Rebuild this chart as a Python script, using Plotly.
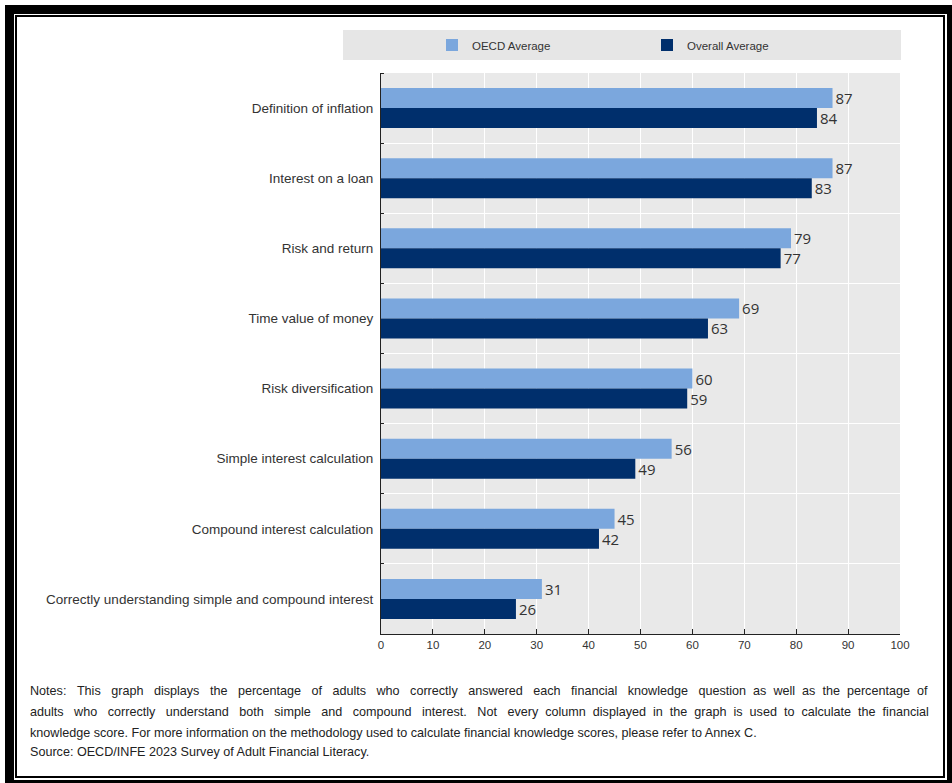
import plotly.graph_objects as go

categories = [
    "Definition of inflation",
    "Interest on a loan",
    "Risk and return",
    "Time value of money",
    "Risk diversification",
    "Simple interest calculation",
    "Compound interest calculation",
    "Correctly understanding simple and compound interest",
]
oecd_avg = [87, 87, 79, 69, 60, 56, 45, 31]
overall_avg = [84, 83, 77, 63, 59, 49, 42, 26]
x_ticks = [0, 10, 20, 30, 40, 50, 60, 70, 80, 90, 100]

note_lines = [
    "Notes: This graph displays the percentage of adults who correctly answered each financial knowledge question as well as the percentage of",
    "adults who correctly understand both simple and compound interest. Not every column displayed in the graph is used to calculate the financial",
    "knowledge score. For more information on the methodology used to calculate financial knowledge scores, please refer to Annex C.",
    "Source: OECD/INFE 2023 Survey of Adult Financial Literacy.",
]
note_justify = [True, True, False, False]

W, H = 952, 783
L, R, T, B = 381, 900, 73, 634

def px(x):
    return (x - L) / (R - L)

def py(y):
    return (B - y) / (B - T)

SANS = "Liberation Sans, Arial, sans-serif"

# Arial / Liberation Sans advance widths (per 1000 em), used to justify the notes
AW = {" ": 278, ".": 278, ",": 278, ":": 278, "/": 278, "-": 333, "0": 556, "1": 556, "2": 556, "3": 556,
      "4": 556, "5": 556, "6": 556, "7": 556, "8": 556, "9": 556,
      "A": 667, "B": 667, "C": 722, "D": 722, "E": 667, "F": 611, "G": 778, "H": 722, "I": 278, "J": 500,
      "K": 667, "L": 556, "M": 833, "N": 722, "O": 778, "P": 667, "Q": 778, "R": 722, "S": 667, "T": 611,
      "U": 722, "V": 667, "W": 944, "X": 667, "Y": 667, "Z": 611,
      "a": 556, "b": 556, "c": 500, "d": 556, "e": 556, "f": 278, "g": 556, "h": 556, "i": 222, "j": 222,
      "k": 500, "l": 222, "m": 833, "n": 556, "o": 556, "p": 556, "q": 556, "r": 333, "s": 500, "t": 278,
      "u": 556, "v": 500, "w": 722, "x": 500, "y": 500, "z": 500}

NOTE_SIZE = 12.6
NOTE_LEFT, NOTE_RIGHT = 28, 926

def text_width(s, size):
    return sum(AW.get(c, 556) for c in s) * size / 1000.0

def justify(line, size, target):
    words = line.split(" ")
    gaps = len(words) - 1
    extra = target - text_width(line, size)
    sp = 0.278 * size
    n_extra = max(0, int(round(extra / sp)))
    base, rem = divmod(n_extra, gaps)
    out = words[0]
    for i, w in enumerate(words[1:]):
        k = base + (1 if i < rem else 0)
        out += " " + "\u00a0" * k + w
    return out

ypos = list(range(len(categories)))

fig = go.Figure()
fig.add_trace(go.Bar(
    name="OECD Average", y=ypos, x=oecd_avg, orientation="h",
    marker=dict(color="#7ba7dd", line=dict(width=0)),
    text=oecd_avg, textposition="outside", cliponaxis=False,
    textfont=dict(size=15, color="#333333", family="Open Sans, sans-serif"),
))
fig.add_trace(go.Bar(
    name="Overall Average", y=ypos, x=overall_avg, orientation="h",
    marker=dict(color="#002f6c", line=dict(width=0)),
    text=overall_avg, textposition="outside", cliponaxis=False,
    textfont=dict(size=15, color="#333333", family="Open Sans, sans-serif"),
))

def frame(x0, y0, x1, y1, width):
    return dict(type="rect", xref="paper", yref="paper", layer="below",
                x0=px(x0), x1=px(x1), y0=py(y0), y1=py(y1),
                fillcolor="rgba(0,0,0,0)", line=dict(width=width, color="black"))

shapes = [
    frame(9.5, 9.5, 951.5, 784.5, 9),
    frame(16, 16, 944, 777, 2),
    dict(type="rect", xref="paper", yref="paper", layer="below",
         x0=px(343), x1=px(901), y0=py(30), y1=py(60),
         fillcolor="#e6e6e6", line=dict(width=0)),
]

annotations = []
note_y = [691, 712, 733, 752]
for line, just, yc in zip(note_lines, note_justify, note_y):
    txt = justify(line, NOTE_SIZE, NOTE_RIGHT - NOTE_LEFT) if just else line
    annotations.append(dict(xref="paper", yref="paper", x=px(NOTE_LEFT), y=py(yc),
                            xanchor="left", yanchor="middle", text=txt, showarrow=False,
                            align="left", font=dict(family=SANS, size=NOTE_SIZE, color="#222222")))

fig.update_layout(
    width=W, height=H,
    margin=dict(l=L, r=W - R, t=T, b=H - B, pad=0),
    paper_bgcolor="white",
    plot_bgcolor="#e9e9e9",
    barmode="group", bargap=0.43, bargroupgap=0,
    shapes=shapes,
    showlegend=True,
    legend=dict(orientation="h", x=px(432), xanchor="left", y=py(45), yanchor="middle",
                bgcolor="rgba(0,0,0,0)", entrywidth=170, entrywidthmode="pixels",
                font=dict(family=SANS, size=11.5, color="#333333"), traceorder="normal"),
    font=dict(family=SANS, color="#333333"),
    xaxis=dict(range=[0, 100], tickvals=x_ticks, showgrid=True, gridcolor="white", gridwidth=1,
               zeroline=False, showline=True, linecolor="#222222", linewidth=1,
               ticks="inside", ticklen=5, tickcolor="#222222",
               tickfont=dict(family=SANS, size=11.5, color="#333333"), fixedrange=True),
    yaxis=dict(range=[7.5, -0.5], tickvals=ypos, ticktext=categories, showgrid=False,
               zeroline=False, showline=True, linecolor="#222222", linewidth=1,
               ticks="", ticklabelstandoff=4,
               minor=dict(tick0=0.5, dtick=1, showgrid=True, gridcolor="white", gridwidth=1,
                          ticks="inside", ticklen=3, tickcolor="#222222"),
               tickfont=dict(family=SANS, size=13.5, color="#333333")),
    annotations=annotations,
)

fig.write_html("out.html")
